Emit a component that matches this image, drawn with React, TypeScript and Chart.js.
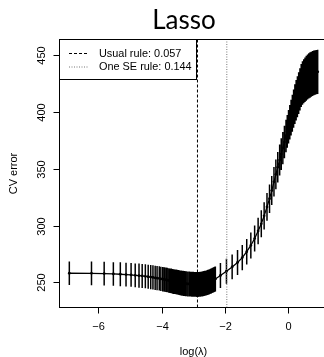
import React, { useEffect, useRef } from 'react';
import { Chart, registerables } from 'chart.js';

Chart.register(...registerables);

// ---------------- data ----------------
const titleText = 'Lasso';
const xLabel = 'log(λ)';
const yLabel = 'CV error';

const logLambda = [
  -6.91, -6.21, -5.81, -5.52, -5.30, -5.12, -4.96, -4.83, -4.71, -4.61,
  -4.51, -4.42, -4.34, -4.27, -4.20, -4.14, -4.07, -4.02, -3.96, -3.91,
  -3.86, -3.82, -3.77, -3.73, -3.69, -3.65, -3.61, -3.58, -3.54, -3.51,
  -3.47, -3.44, -3.41, -3.38, -3.35, -3.32, -3.30, -3.27, -3.24, -3.22,
  -3.17, -3.12, -3.08, -3.04, -3.00, -2.96, -2.92, -2.88, -2.85, -2.81,
  -2.78, -2.75, -2.72, -2.69, -2.66, -2.63, -2.60, -2.58, -2.55, -2.53,
  -2.50, -2.48, -2.45, -2.43, -2.41, -2.39, -2.36, -2.34, -2.32, -2.30,
  -2.14, -1.95, -1.77, -1.60, -1.45, -1.31, -1.18, -1.06, -0.95, -0.85,
  -0.76, -0.67, -0.59, -0.52, -0.45, -0.39, -0.33, -0.27, -0.22, -0.17,
  -0.12, -0.07, -0.03, 0.01, 0.05, 0.09, 0.13, 0.17, 0.21, 0.25,
  0.29, 0.33, 0.37, 0.41, 0.45, 0.49, 0.53, 0.57, 0.61, 0.65,
  0.69, 0.73, 0.77, 0.81, 0.85, 0.89, 0.93,
];

const cvMean = [
  257.9, 257.8, 257.6, 257.3, 257.0, 256.7, 256.4, 256.1, 255.8, 255.5,
  255.2, 254.8, 254.5, 254.2, 253.9, 253.6, 253.3, 253.0, 252.7, 252.4,
  252.1, 251.9, 251.6, 251.3, 251.1, 250.8, 250.6, 250.4, 250.2, 250.0,
  249.8, 249.6, 249.4, 249.3, 249.1, 249.0, 248.9, 248.8, 248.7, 248.6,
  248.5, 248.4, 248.3, 248.2, 248.2, 248.1, 248.1, 248.0, 248.0, 248.1,
  248.2, 248.3, 248.4, 248.6, 248.8, 249.0, 249.2, 249.4, 249.7, 249.9,
  250.2, 250.5, 250.8, 251.1, 251.4, 251.7, 252.0, 252.3, 252.6, 252.9,
  255.9, 259.7, 263.5, 267.4, 271.7, 276.9, 282.4, 288.5, 295.2, 301.5,
  308.5, 316.4, 323.6, 330.8, 338.5, 345.1, 351.4, 357.7, 363.0, 368.3,
  373.6, 378.9, 383.0, 387.1, 391.1, 395.1, 399.0, 403.0, 407.0, 410.4,
  413.6, 416.8, 420.0, 423.4, 425.6, 427.2, 428.6, 429.8, 430.9, 431.9,
  432.7, 433.4, 434.0, 434.5, 434.9, 435.2, 435.5,
];

const cvSe = [
  10.4, 10.4, 10.4, 10.4, 10.5, 10.5, 10.5, 10.5, 10.6, 10.6,
  10.6, 10.6, 10.6, 10.7, 10.7, 10.7, 10.7, 10.7, 10.8, 10.8,
  10.8, 10.8, 10.8, 10.8, 10.9, 10.9, 10.9, 10.9, 10.9, 10.9,
  10.9, 10.9, 10.9, 11.0, 11.0, 11.0, 11.0, 11.0, 11.0, 11.0,
  11.0, 11.0, 11.0, 11.0, 11.0, 11.0, 11.0, 11.0, 11.0, 11.0,
  11.0, 11.0, 11.0, 11.0, 11.0, 11.0, 11.0, 11.0, 11.0, 11.0,
  11.0, 11.0, 11.0, 11.0, 11.0, 11.0, 11.0, 11.0, 11.0, 11.0,
  11.0, 11.0, 11.0, 11.1, 11.2, 11.3, 11.4, 11.5, 11.7, 11.9,
  12.1, 12.3, 12.6, 12.8, 13.0, 13.2, 13.5, 13.7, 14.0, 14.2,
  14.3, 14.4, 14.5, 14.7, 15.2, 15.8, 16.3, 16.9, 17.5, 17.8,
  18.1, 18.4, 18.7, 19.0, 19.2, 19.4, 19.6, 19.8, 19.9, 20.0,
  20.0, 19.9, 19.8, 19.7, 19.6, 19.5, 19.5,
];

const usualLambda = 0.057;
const oneSeLambda = 0.144;
const legendLabels = ['Usual rule: 0.057', 'One SE rule: 0.144'];

const xTicks = [-6, -4, -2, 0];
const xTickLabels = ['\u22126', '\u22124', '\u22122', '0'];
const yTicks = [250, 300, 350, 400, 450];
const yTickLabels = ['250', '300', '350', '400', '450'];

const X_MIN = -7.22;
const X_MAX = 1.24;
const Y_MIN = 227.7;
const Y_MAX = 464;

// ---------------- layout ----------------
const W = 340;
const H = 357;
const AREA = { left: 59.5, top: 39.5, right: 327.5, bottom: 307.5 };
const FONT = '"Liberation Sans", Arial, Helvetica, sans-serif';

const framePlugin = {
  id: 'rframe',
  afterDraw(chart: any) {
    const { ctx, chartArea: a, scales } = chart;
    const xs = scales.x;
    const ys = scales.y;
    ctx.save();
    ctx.strokeStyle = '#000';
    ctx.fillStyle = '#000';
    ctx.lineWidth = 1;
    ctx.setLineDash([]);

    // legend box
    const lx0 = a.left;
    const ly0 = a.top;
    const lx1 = 196.5;
    const ly1 = 79.5;
    ctx.fillStyle = '#fff';
    ctx.fillRect(lx0, ly0, lx1 - lx0, ly1 - ly0);
    ctx.strokeStyle = '#000';
    ctx.strokeRect(lx0, ly0, lx1 - lx0, ly1 - ly0);
    const rows = [53, 66.5];
    ctx.beginPath();
    ctx.setLineDash([3, 2]);
    ctx.strokeStyle = '#000';
    ctx.moveTo(69, rows[0] + 0.5);
    ctx.lineTo(87.5, rows[0] + 0.5);
    ctx.stroke();
    ctx.beginPath();
    ctx.setLineDash([1, 1.5]);
    ctx.strokeStyle = '#777';
    ctx.moveTo(69, rows[1] + 0.5);
    ctx.lineTo(87.5, rows[1] + 0.5);
    ctx.stroke();
    ctx.setLineDash([]);
    ctx.fillStyle = '#000';
    ctx.font = `10.9px ${FONT}`;
    ctx.textAlign = 'left';
    ctx.textBaseline = 'middle';
    ctx.fillText(legendLabels[0], 99, rows[0] + 0.5);
    ctx.fillText(legendLabels[1], 99, rows[1] + 0.5);

    // plot box
    ctx.strokeStyle = '#000';
    ctx.strokeRect(a.left, a.top, a.right - a.left, a.bottom - a.top);

    // x ticks
    ctx.font = `11px ${FONT}`;
    ctx.textAlign = 'center';
    ctx.textBaseline = 'middle';
    xTicks.forEach((v, i) => {
      const px = Math.round(xs.getPixelForValue(v)) + 0.5;
      ctx.beginPath();
      ctx.moveTo(px, a.bottom);
      ctx.lineTo(px, a.bottom + 6);
      ctx.stroke();
      ctx.fillText(xTickLabels[i], px, 327);
    });

    // y ticks (rotated labels)
    yTicks.forEach((v, i) => {
      const py = Math.round(ys.getPixelForValue(v)) + 0.5;
      ctx.beginPath();
      ctx.moveTo(a.left - 6, py);
      ctx.lineTo(a.left, py);
      ctx.stroke();
      ctx.save();
      ctx.translate(41.5, py);
      ctx.rotate(-Math.PI / 2);
      ctx.fillText(yTickLabels[i], 0, 0);
      ctx.restore();
    });

    // axis titles
    ctx.fillText(xLabel, (a.left + a.right) / 2, 351.5);
    ctx.save();
    ctx.translate(13.5, (a.top + a.bottom) / 2);
    ctx.rotate(-Math.PI / 2);
    ctx.fillText(yLabel, 0, 0);
    ctx.restore();

    // main title
    ctx.font = '26px Lato, "Open Sans", sans-serif';
    ctx.textAlign = 'center';
    ctx.textBaseline = 'alphabetic';
    ctx.fillText(titleText, 184, 28.5);

    ctx.restore();
  },
};

const bgPlugin = {
  id: 'bg',
  beforeDraw(chart: any) {
    const { ctx, width, height } = chart;
    ctx.save();
    ctx.fillStyle = '#fff';
    ctx.fillRect(0, 0, width, height);
    ctx.restore();
  },
};

export default function App() {
  const ref = useRef<HTMLCanvasElement | null>(null);

  useEffect(() => {
    if (!ref.current) return;

    const meanPts = logLambda.map((x, i) => ({ x, y: cvMean[i] }));
    const barPts: { x: number; y: number | null }[] = [];
    logLambda.forEach((x, i) => {
      barPts.push({ x, y: cvMean[i] - cvSe[i] });
      barPts.push({ x, y: cvMean[i] + cvSe[i] });
      barPts.push({ x, y: null });
    });
    const xUsual = Math.log(usualLambda);
    const xOneSe = Math.log(oneSeLambda);

    const chart = new Chart(ref.current, {
      type: 'line',
      data: {
        datasets: [
          {
            label: 'usual',
            data: [
              { x: xUsual, y: Y_MIN },
              { x: xUsual, y: Y_MAX },
            ],
            borderColor: '#000',
            borderWidth: 1,
            borderDash: [3, 2],
            pointRadius: 0,
          },
          {
            label: 'onese',
            data: [
              { x: xOneSe, y: Y_MIN },
              { x: xOneSe, y: Y_MAX },
            ],
            borderColor: '#777',
            borderWidth: 1,
            borderDash: [1, 1.5],
            pointRadius: 0,
          },
          {
            label: 'mean',
            data: meanPts,
            borderColor: '#000',
            backgroundColor: '#000',
            borderWidth: 1.3,
            pointRadius: 1.4,
            pointBorderWidth: 0,
            pointBackgroundColor: '#000',
            tension: 0,
          },
          {
            label: 'bars',
            data: barPts as any,
            borderColor: '#000',
            borderWidth: 1.5,
            pointRadius: 0,
            spanGaps: false,
          },
        ],
      },
      options: {
        animation: false,
        responsive: false,
        devicePixelRatio: 1,
        layout: {
          padding: {
            left: AREA.left,
            top: AREA.top,
            right: W - AREA.right,
            bottom: H - AREA.bottom,
          },
        },
        scales: {
          x: { type: 'linear', min: X_MIN, max: X_MAX, display: false },
          y: { type: 'linear', min: Y_MIN, max: Y_MAX, display: false },
        },
        plugins: {
          legend: { display: false },
          title: { display: false },
          tooltip: { enabled: false },
        },
      },
      plugins: [bgPlugin, framePlugin],
    });

    return () => chart.destroy();
  }, []);

  return (
    <div
      style={{
        position: 'fixed',
        left: 0,
        top: 0,
        width: 324,
        height: 357,
        overflow: 'hidden',
        background: '#fff',
      }}
    >
      <canvas ref={ref} width={W} height={H} style={{ display: 'block', width: W, height: H }} />
    </div>
  );
}
